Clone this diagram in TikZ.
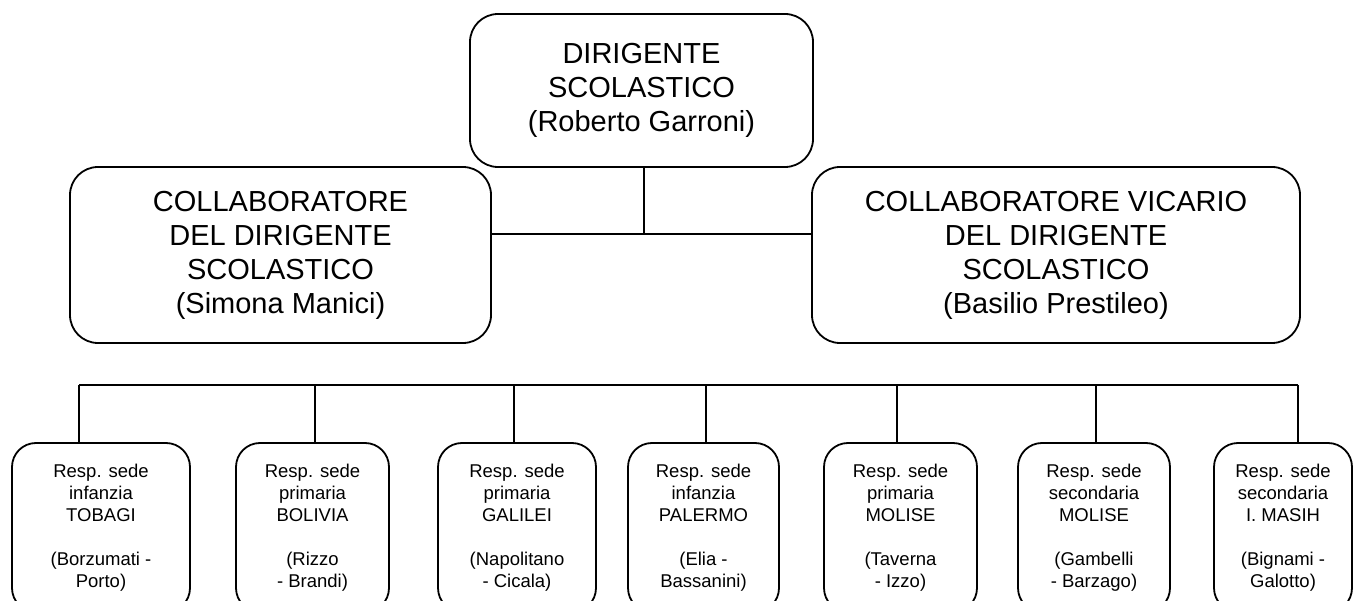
\documentclass[tikz,border=0pt]{standalone}
\usepackage{fontspec}
\setmainfont{Liberation Sans}
\begin{document}
\begin{tikzpicture}[x=1pt,y=-1pt,
  box/.style={draw, line width=1.8pt, align=center, inner sep=0pt},
  big/.style={box, rounded corners=28pt, minimum height=176pt, font=\fontsize{29}{34}\selectfont},
  small/.style={box, rounded corners=24pt, minimum height=169pt, font=\fontsize{18.5}{22}\selectfont},
  link/.style={line width=1.8pt}]
\useasboundingbox (0,0) rectangle (1355,601);
\clip (0,0) rectangle (1355,601);
% top level
\node[big, minimum width=343pt, minimum height=153pt] (top) at (641.5,90.5) {DIRIGENTE\\SCOLASTICO\\(Roberto Garroni)};
\node[big, minimum width=421pt] (left) at (280.5,255) {COLLABORATORE\\DEL DIRIGENTE\\SCOLASTICO\\(Simona Manici)};
\node[big, minimum width=488pt] (right) at (1056,255) {COLLABORATORE VICARIO\\DEL DIRIGENTE\\SCOLASTICO\\(Basilio Prestileo)};
\coordinate (j) at (644,234);
\draw[link] (top.south -| j) -- (j);
\draw[link] (left.east |- j) -- (right.west |- j);
% bottom level
\node[small, minimum width=178pt] (b1) at (101,527.5) {Resp. sede\\infanzia\\TOBAGI\\[22pt](Borzumati -\\Porto)};
\node[small, minimum width=153pt] (b2) at (312.5,527.5) {Resp. sede\\primaria\\BOLIVIA\\[22pt](Rizzo\\- Brandi)};
\node[small, minimum width=158pt] (b3) at (517,527.5) {Resp. sede\\primaria\\GALILEI\\[22pt](Napolitano\\- Cicala)};
\node[small, minimum width=151pt] (b4) at (703.5,527.5) {Resp. sede\\infanzia\\PALERMO\\[22pt](Elia -\\Bassanini)};
\node[small, minimum width=153pt] (b5) at (900.5,527.5) {Resp. sede\\primaria\\MOLISE\\[22pt](Taverna\\- Izzo)};
\node[small, minimum width=152pt] (b6) at (1094,527.5) {Resp. sede\\secondaria\\MOLISE\\[22pt](Gambelli\\- Barzago)};
\node[small, minimum width=138pt] (b7) at (1283,527.5) {Resp. sede\\secondaria\\I. MASIH\\[22pt](Bignami -\\Galotto)};
\coordinate (t1) at (79,385);
\coordinate (t2) at (315,385);
\coordinate (t3) at (514,385);
\coordinate (t4) at (706,385);
\coordinate (t5) at (897,385);
\coordinate (t6) at (1096,385);
\coordinate (t7) at (1298,385);
\draw[link] (t1) -- (t7);
\foreach \i in {1,...,7} {\draw[link] (t\i) -- (b\i.north -| t\i);}
\end{tikzpicture}
\end{document}
